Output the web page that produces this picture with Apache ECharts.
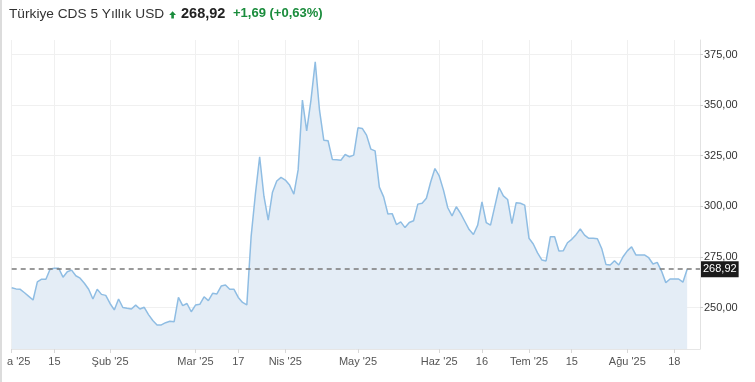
<!DOCTYPE html>
<html><head><meta charset="utf-8">
<script src="https://cdn.jsdelivr.net/npm/echarts@6/dist/echarts.min.js"></script>
<style>html,body{margin:0;padding:0;background:#fff}#c{width:755px;height:382px}</style>
</head><body><div id="c"></div>
<script>
const titleText = 'Türkiye CDS 5 Yıllık USD';
const lastValue = 268.92;
const changeText = '+1,69 (+0,63%)';
const startDate = '2025-01-01';
const endDate = '2025-08-26';
const missingDates = ['2025-04-01','2025-04-18','2025-04-21','2025-04-23','2025-04-24','2025-05-01','2025-05-19','2025-05-26'];
const monthNames = ['Oca','Şub','Mar','Nis','May','Haz','Tem','Ağu','Eyl','Eki','Kas','Ara'];
const midTickDates = ['2025-01-15','2025-03-17','2025-06-16','2025-07-15','2025-08-18'];
const yTicks = [250, 275, 300, 325, 350, 375];
const yMin = 229.5, yMax = 382.2;
const values = [
259.8,259.2,259.0,257.3,255.5,253.7,262.7,264.0,264.0,269.0,
269.4,269.4,265.0,267.7,268.5,265.7,264.5,262.0,259.0,254.2,
259.0,256.5,256.0,252.0,248.8,254.2,250.0,249.6,249.3,251.2,
249.3,250.1,246.5,243.6,241.4,241.4,242.5,243.2,243.0,255.0,
250.9,252.0,247.9,251.2,251.6,255.3,253.4,257.0,256.7,260.6,
261.1,259.0,259.0,255.0,252.5,251.3,285.0,306.0,324.5,305.0,
293.2,307.0,312.5,314.3,313.0,310.5,306.0,318.0,352.5,337.3,
352.5,371.4,347.5,332.7,332.4,323.2,323.0,322.8,325.6,324.5,
325.3,338.8,338.5,335.2,328.3,327.4,309.5,304.7,296.2,296.4,
291.0,292.3,289.5,292.0,292.9,301.1,301.5,304.0,312.0,318.7,
315.0,308.0,299.3,295.3,299.8,296.5,292.5,288.5,286.1,290.7,
302.2,292.0,290.7,300.0,309.3,305.2,303.4,291.5,301.8,301.5,
300.6,284.2,281.4,277.0,273.5,273.0,285.0,285.0,277.9,278.0,
282.0,283.7,286.0,288.8,285.8,284.2,284.2,284.0,279.2,271.3,
271.0,273.1,271.0,275.1,278.0,280.0,276.0,276.0,276.0,274.6,
271.5,272.3,268.0,262.3,264.1,264.1,264.1,262.5,268.92
];

// trading-day categories
const dates = [];
(function(){
  const miss = new Set(missingDates);
  let d = new Date(startDate + 'T00:00:00Z');
  const end = new Date(endDate + 'T00:00:00Z');
  while (d <= end) {
    const wd = d.getUTCDay();
    const s = d.toISOString().slice(0,10);
    if (wd !== 0 && wd !== 6 && !miss.has(s)) dates.push(s);
    d = new Date(d.getTime() + 86400000);
  }
})();
const seriesData = dates.map((d,i) => (i < values.length ? values[i] : null));

const tickLabel = {};
dates.forEach((d,i) => {
  const m = d.slice(0,7);
  if (i === 0 || dates[i-1].slice(0,7) !== m) {
    tickLabel[i] = monthNames[parseInt(d.slice(5,7),10)-1] + " '" + d.slice(2,4);
  } else if (midTickDates.indexOf(d) >= 0) {
    tickLabel[i] = String(parseInt(d.slice(8,10),10));
  }
});
const showTick = (idx) => tickLabel[idx] !== undefined;
const fmt = v => v.toFixed(2).replace('.', ',');
const FONT = '"Liberation Sans", Arial, sans-serif';

const chart = echarts.init(document.getElementById('c'), null, {renderer:'canvas'});
chart.setOption({
  animation: false,
  backgroundColor: '#fff',
  grid: {left: 11.7, right: 55, top: 40, bottom: 33, containLabel: false, outerBoundsMode: 'none'},
  xAxis: {
    type: 'category', data: dates, boundaryGap: false,
    axisLine: {show: true, lineStyle: {color: '#e6e6e6'}},
    axisTick: {show: true, interval: showTick, length: 4, lineStyle: {color: '#d8d8d8'}},
    axisLabel: {interval: showTick, formatter: (v, idx) => tickLabel[idx] || '', color: '#555', fontSize: 11, margin: 7, fontFamily: FONT},
    splitLine: {show: true, interval: showTick, lineStyle: {color: '#f0f0f0'}}
  },
  yAxis: {
    type: 'value', position: 'right', min: yMin, max: yMax, scale: true,
    axisLine: {show: true, lineStyle: {color: '#e2e2e2'}},
    axisTick: {show: true, length: 3, customValues: yTicks, lineStyle: {color: '#cfcfcf'}},
    axisLabel: {customValues: yTicks, formatter: v => fmt(v), color: '#333', fontSize: 11, margin: 4, fontFamily: FONT},
    splitLine: {show: true, lineStyle: {color: '#f0f0f0'}}
  },
  series: [{
    type: 'line', data: seriesData, showSymbol: false, symbol: 'none',
    lineStyle: {color: '#8fbde3', width: 1.5},
    areaStyle: {color: '#e4edf6', origin: 'start', opacity: 1},
    markLine: {
      symbol: 'none', silent: true, animation: false,
      data: [{yAxis: lastValue}],
      lineStyle: {type: [5, 4], color: '#7a7a7a', width: 1.5},
      label: {position: 'end', formatter: () => fmt(lastValue), backgroundColor: '#1b1b1b', color: '#fff',
              padding: [3, 2, 2, 2], fontSize: 11, distance: 1, fontFamily: FONT}
    }
  }],
  graphic: [
    {type: 'rect', z: 100, shape: {x: 0, y: 0, width: 7, height: 382}, style: {fill: '#fff'}},
    {type: 'rect', z: 101, shape: {x: 0, y: 0, width: 2, height: 382}, style: {fill: '#dcdcdc'}},
    {type: 'text', z: 101, left: 9, top: 7, style: {text: titleText, font: '13.7px ' + FONT, fill: '#333'}},
    {type: 'polygon', z: 101, shape: {points: [[172.6,11.3],[176.0,15],[173.9,15],[173.9,18.6],[171.3,18.6],[171.3,15],[169.2,15]]}, style: {fill: '#1a8c3c'}},
    {type: 'text', z: 101, left: 181, top: 6, style: {text: fmt(lastValue), font: 'bold 14.5px ' + FONT, fill: '#222'}},
    {type: 'text', z: 101, left: 233, top: 7, style: {text: changeText, font: 'bold 13px ' + FONT, fill: '#1a8c3c'}}
  ]
});
</script></body></html>
